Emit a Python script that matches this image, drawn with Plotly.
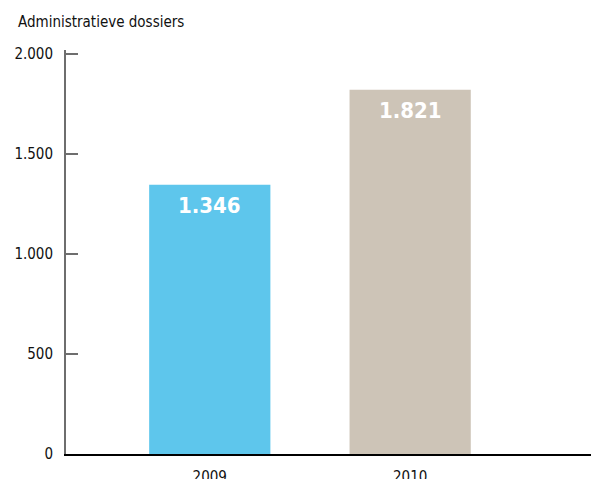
import plotly.graph_objects as go

categories = ["2009", "2010"]
values = [1346, 1821]
value_labels = ["1.346", "1.821"]
bar_colors = ["#5EC6EC", "#CDC4B7"]
tick_vals = [0, 500, 1000, 1500, 2000]
tick_text = ["0", "500", "1.000", "1.500", "2.000"]
title_text = "Administratieve dossiers"

FONT = "DejaVu Sans Condensed, Liberation Sans Narrow, sans-serif"

fig = go.Figure()
fig.add_trace(go.Bar(
    x=categories, y=values, marker=dict(color=bar_colors, line=dict(width=0)),
    width=0.605, hoverinfo="skip", showlegend=False,
))

for i, (v, t) in enumerate(zip(values, value_labels)):
    fig.add_annotation(x=i, y=v, xref="x", yref="y", text="<b>" + t + "</b>",
                       showarrow=False, yanchor="middle", yshift=-21,
                       font=dict(family=FONT, size=22, color="white"))

fig.update_layout(
    width=591, height=479,
    margin=dict(l=66, r=0, t=50, b=25, autoexpand=False),
    paper_bgcolor="white", plot_bgcolor="white",
    font=dict(family=FONT, size=15, color="#111"),
    title=dict(text=title_text, x=18/591, xanchor="left", y=1-22/479, yanchor="middle",
               font=dict(family=FONT, size=15, color="#111")),
    separators=",.",
)
fig.update_xaxes(
    type="category", range=[-0.7175, 1.9025], automargin=False,
    showline=True, linecolor="black", linewidth=2,
    ticks="", showgrid=False, ticklabelstandoff=8,
    tickfont=dict(family=FONT, size=15, color="#111"),
)
fig.update_yaxes(
    range=[0, 2020], tickvals=tick_vals, ticktext=tick_text, automargin=False,
    showline=True, linecolor="#6E6E6E", linewidth=2,
    ticks="inside", ticklen=12, tickcolor="#6E6E6E", tickwidth=1.5,
    showgrid=False, zeroline=False, ticklabelstandoff=8,
    tickfont=dict(family=FONT, size=15, color="#111"),
)

fig.write_html(
    "out.html",
    config={"displayModeBar": False},
    post_script="document.body.style.margin='0';document.body.style.overflow='hidden';",
)
